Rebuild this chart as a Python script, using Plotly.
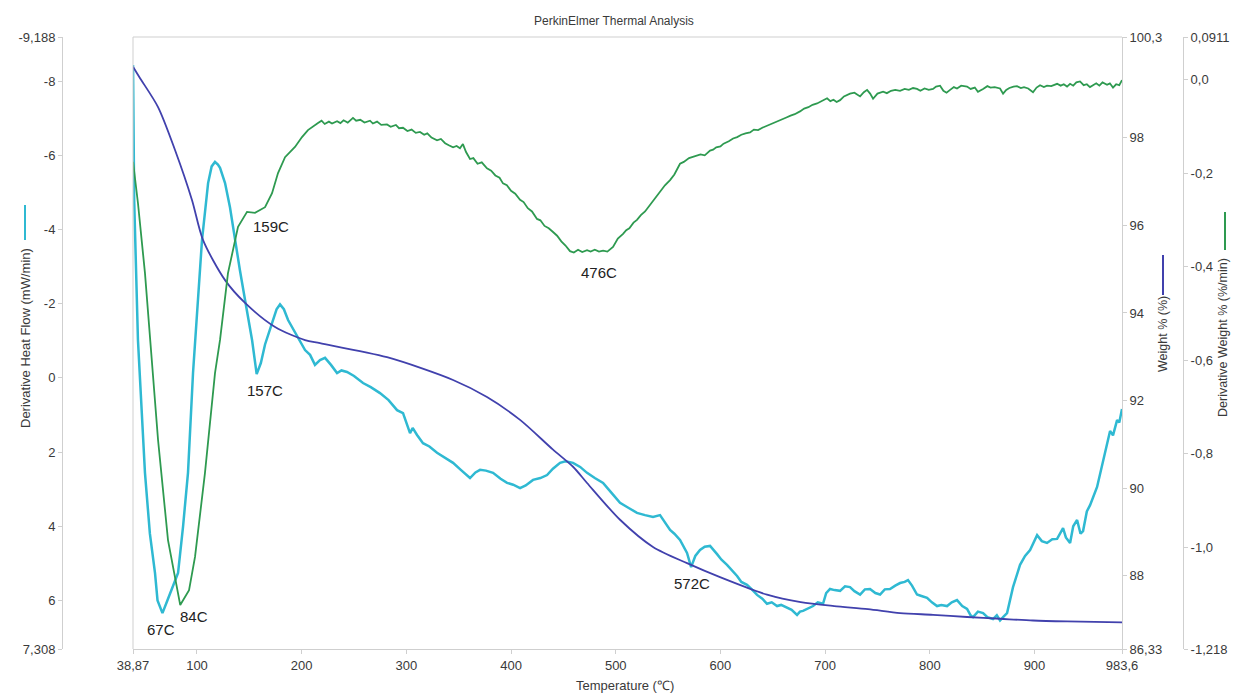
import plotly.graph_objects as go

# ---------------- data ----------------
# Derivative heat flow (mW/min), left axis (reversed)
hf_T = [38.9, 40.0, 43.6, 50.3, 55.0, 59.9, 62.3, 67.0, 71.7, 76.0, 81.9, 86.7, 91.4, 96.2, 100.0,
        104.8, 110.6, 114.0, 117.2, 120.0, 122.0, 126.8, 131.5, 136.3, 141.0, 145.9, 152.6, 157.0,
        161.0, 165.0, 171.7, 176.0, 179.3, 183.0, 187.0, 192.0, 196.5, 203.2, 208.0, 212.7, 217.5,
        222.3, 228.0, 233.8, 238.0, 243.3, 250.0, 258.6, 266.0, 274.8, 283.0, 291.1, 296.8, 303.5,
        306.0, 310.2, 315.9, 322.0, 329.3, 337.0, 344.6, 352.0, 360.8, 366.0, 370.4, 376.0, 382.8,
        390.0, 396.2, 402.0, 408.6, 414.0, 421.0, 428.0, 434.4, 440.0, 446.8, 452.0, 459.2, 466.0,
        472.6, 480.0, 487.9, 496.0, 504.1, 512.0, 520.3, 528.0, 535.6, 542.3, 547.0, 551.9, 556.0,
        561.4, 568.1, 572.0, 576.0, 580.5, 585.0, 590.1, 596.8, 601.0, 606.3, 615.9, 620.0, 625.4,
        630.0, 635.0, 640.0, 644.5, 649.0, 654.1, 658.0, 663.6, 668.0, 673.2, 676.0, 678.9, 684.0,
        688.5, 693.0, 698.0, 701.0, 704.7, 709.0, 714.3, 719.0, 723.8, 728.0, 733.4, 738.0, 742.9,
        748.0, 752.5, 757.0, 762.0, 767.0, 771.6, 776.0, 779.2, 783.0, 787.8, 792.0, 797.4, 802.0,
        806.9, 811.0, 816.5, 821.0, 826.0, 831.0, 835.6, 839.0, 841.3, 846.0, 850.9, 855.0, 860.4,
        864.0, 867.1, 870.0, 873.8, 879.5, 886.2, 891.0, 895.8, 902.5, 907.0, 912.0, 917.0, 921.6,
        927.3, 930.0, 934.0, 937.0, 940.7, 944.0, 946.4, 950.0, 953.1, 959.8, 965.5, 972.2, 975.0,
        978.9, 981.0, 983.6]
hf_val = [-8.43, -4.79, -1.02, 2.56, 4.20, 5.26, 6.00, 6.34, 6.00, 5.70, 5.26, 4.00, 2.56, -0.13, -1.80,
          -3.72, -5.25, -5.70, -5.82, -5.75, -5.66, -5.25, -4.60, -3.72, -2.90, -2.10, -1.02, -0.10,
          -0.40, -0.90, -1.50, -1.85, -1.98, -1.85, -1.56, -1.30, -1.10, -0.75, -0.62, -0.35, -0.48,
          -0.54, -0.35, -0.13, -0.20, -0.16, -0.05, 0.14, 0.25, 0.41, 0.60, 0.87, 0.95, 1.49,
          1.35, 1.54, 1.76, 1.85, 2.02, 2.15, 2.29, 2.48, 2.70, 2.55, 2.48, 2.50, 2.56,
          2.72, 2.83, 2.88, 2.97, 2.90, 2.75, 2.70, 2.62, 2.45, 2.29, 2.25, 2.29, 2.40,
          2.56, 2.70, 2.83, 3.10, 3.37, 3.50, 3.64, 3.70, 3.75, 3.70, 3.90, 4.10, 4.20,
          4.37, 4.72, 5.10, 4.80, 4.64, 4.55, 4.53, 4.75, 4.90, 5.04, 5.34, 5.50, 5.58,
          5.70, 5.85, 5.95, 6.09, 6.05, 6.15, 6.12, 6.19, 6.25, 6.39, 6.30, 6.28, 6.20,
          6.15, 6.05, 6.09, 5.80, 5.69, 5.72, 5.74, 5.62, 5.64, 5.75, 5.84, 5.70, 5.69,
          5.80, 5.84, 5.70, 5.69, 5.60, 5.53, 5.50, 5.45, 5.60, 5.84, 5.88, 5.93, 6.05,
          6.15, 6.12, 6.15, 6.05, 5.99, 6.15, 6.23, 6.40, 6.45, 6.30, 6.34, 6.45, 6.50,
          6.40, 6.54, 6.45, 6.34, 5.64, 5.04, 4.80, 4.64, 4.24, 4.40, 4.45, 4.35, 4.34,
          4.05, 4.30, 4.45, 4.00, 3.83, 4.20, 4.13, 3.60, 3.43, 2.94, 2.24, 1.43, 1.55,
          1.14, 1.20, 0.84]

# Weight % (%), first right axis
wt_T = [38.87, 45.6, 62.8, 79.0, 95.2, 105.7, 126.8, 145.9, 174.6, 203.2, 217.5, 281.5, 344.6,
        377.0, 408.6, 440.1, 459.2, 472.6, 504.1, 535.6, 568.1, 599.6, 644.5, 676.7, 708.6,
        741.0, 771.6, 803.1, 835.6, 867.1, 898.6, 931.1, 983.6]
wt_val = [99.62, 99.36, 98.70, 97.72, 96.58, 95.67, 94.75, 94.23, 93.68, 93.38, 93.31, 92.99, 92.47,
          92.08, 91.56, 90.88, 90.49, 90.12, 89.28, 88.66, 88.29, 87.97, 87.57, 87.40, 87.31,
          87.24, 87.15, 87.11, 87.06, 87.02, 86.98, 86.96, 86.94]

# Derivative weight % (%/min), second right axis
dw_T = [38.9, 43.6, 50.3, 55.1, 62.8, 72.3, 79.9, 84.0, 92.4, 98.1, 107.6, 117.2, 122.0, 129.6,
        139.2, 147.8, 155.4, 165.0, 171.7, 177.4, 184.1, 193.6, 200.3, 206.0,
        215.6, 219, 222, 226, 229, 233.8, 237, 240, 244, 249, 252, 256, 260, 265.3, 268, 272, 276,
        281.5, 285, 290, 293, 296.8, 301, 305, 309, 313, 317, 320, 324, 329.3, 333, 337, 341,
        344.6, 348, 351.2, 354, 357, 360.8, 364, 368, 372, 377, 381, 385, 389, 392.3, 396, 400,
        404, 408.6, 412, 416, 420, 424.8, 428, 432, 436, 440.1, 444, 448, 452, 456.3, 460, 464,
        468, 472.6, 476, 480, 484, 487.9, 492, 497.4, 502, 507, 510, 513, 517, 520.3, 524, 528,
        532, 535.6, 539, 543, 547, 551.9, 556, 561.4, 565, 570, 574, 577.6, 581, 585, 590.1, 593,
        596, 600, 603, 608, 612.1, 616, 620, 624, 628.3, 632, 636, 640, 644.5, 648, 652, 656,
        659.8, 663, 667, 671, 676, 680, 684, 688, 692.3, 697, 701.9, 705, 708, 711, 714.3, 718,
        723.8, 728, 733.4, 737, 740.1, 743, 745.8, 750, 755.4, 759, 763, 767, 771.6, 776, 780,
        784, 787.8, 791, 795, 799, 803.1, 806, 809.8, 813, 816, 819.4, 823, 826, 830, 835.6, 839,
        843, 846, 850.9, 855, 858, 862, 867.1, 870, 873, 876, 880, 883.3, 887, 890, 894, 898.6,
        902, 905.3, 909, 912, 916, 921.6, 925, 928, 931.1, 934, 937, 940, 943.5, 947, 950, 953,
        955.9, 959, 962, 965, 969.3, 972, 975, 978, 981, 983.6]
dw_val = [-0.176, -0.264, -0.414, -0.557, -0.771, -0.985, -1.081, -1.124, -1.092, -1.021, -0.842,
          -0.628, -0.557, -0.414, -0.315, -0.283, -0.285, -0.273, -0.243, -0.200, -0.166, -0.144,
          -0.123, -0.108,
          -0.093, -0.088, -0.095, -0.090, -0.094, -0.089, -0.093, -0.087, -0.092, -0.082, -0.088,
          -0.086, -0.092, -0.088, -0.094, -0.090, -0.097, -0.096, -0.101, -0.097, -0.104, -0.103,
          -0.110, -0.107, -0.114, -0.112, -0.118, -0.115, -0.124, -0.130, -0.127, -0.136, -0.141,
          -0.145, -0.142, -0.147, -0.138, -0.155, -0.170, -0.168, -0.180, -0.177, -0.190, -0.195,
          -0.205, -0.210, -0.222, -0.226, -0.238, -0.244, -0.257, -0.262, -0.275, -0.282, -0.298,
          -0.301, -0.313, -0.318, -0.326, -0.334, -0.346, -0.355, -0.367, -0.370, -0.364, -0.369,
          -0.365, -0.368, -0.364, -0.368, -0.366, -0.368, -0.358, -0.340, -0.330, -0.322, -0.318,
          -0.306, -0.300, -0.290, -0.282, -0.270, -0.258, -0.250, -0.238, -0.226, -0.215, -0.203,
          -0.180, -0.176, -0.168, -0.165, -0.162, -0.160, -0.162, -0.152, -0.150, -0.145, -0.143,
          -0.137, -0.132, -0.126, -0.123, -0.118, -0.115, -0.113, -0.107, -0.108, -0.103, -0.099,
          -0.096, -0.092, -0.088, -0.084, -0.081, -0.077, -0.074, -0.068, -0.062, -0.059, -0.054,
          -0.051, -0.045, -0.040, -0.046, -0.043, -0.048, -0.044, -0.036, -0.030, -0.028, -0.036,
          -0.027, -0.022, -0.030, -0.041, -0.030, -0.026, -0.029, -0.024, -0.022, -0.024, -0.020,
          -0.022, -0.018, -0.020, -0.024, -0.019, -0.022, -0.020, -0.015, -0.013, -0.024, -0.028,
          -0.022, -0.016, -0.019, -0.013, -0.015, -0.020, -0.017, -0.026, -0.020, -0.014, -0.017,
          -0.016, -0.019, -0.030, -0.022, -0.018, -0.015, -0.014, -0.018, -0.016, -0.019, -0.027,
          -0.017, -0.012, -0.016, -0.013, -0.014, -0.009, -0.013, -0.010, -0.015, -0.009, -0.013,
          -0.006, -0.004, -0.012, -0.010, -0.016, -0.012, -0.008, -0.013, -0.006, -0.011, -0.008,
          -0.017, -0.010, -0.012, -0.001]

# tick labels
x_ticks = [38.87, 100, 200, 300, 400, 500, 600, 700, 800, 900, 983.6]
x_labels = ["38,87", "100", "200", "300", "400", "500", "600", "700", "800", "900", "983,6"]
hf_ticks = [-9.188, -8, -6, -4, -2, 0, 2, 4, 6, 7.308]
hf_labels = ["-9,188", "-8", "-6", "-4", "-2", "0", "2", "4", "6", "7,308"]
wt_ticks = [86.33, 88, 90, 92, 94, 96, 98, 100.3]
wt_labels = ["86,33", "88", "90", "92", "94", "96", "98", "100,3"]
dw_ticks = [-1.218, -1.0, -0.8, -0.6, -0.4, -0.2, 0.0, 0.0911]
dw_labels = ["-1,218", "-1,0", "-0,8", "-0,6", "-0,4", "-0,2", "0,0", "0,0911"]

# peak labels: (text, temperature, heat-flow-axis value)
peak_text = ["67C", "84C", "159C", "157C", "476C", "572C"]
peak_T = [66, 97, 171, 165, 484, 573]
peak_y = [6.77, 6.42, -4.07, 0.35, -2.85, 5.55]

# ---------------- styling ----------------
# page body has an 8px margin; the figure is sized so it fills the 1239x698 window
OFF = 8
W, H = 1239 - OFF, 698 - OFF
CYAN = "#2fb9d2"
BLUE = "#4141ad"
GREEN = "#2e9a50"
TXT = "#3a3a3a"
AX = "#cfcfcf"
FONT = "Liberation Sans, Arial, sans-serif"


def px2paper(px):
    return (px - OFF) / W


def py2paper(py):
    return (649 - py) / 612


x0p, x1p = px2paper(133), px2paper(1122)

fig = go.Figure()
fig.add_trace(go.Scatter(x=hf_T, y=hf_val, mode="lines", line=dict(color=CYAN, width=2.5),
                         yaxis="y", name="Derivative Heat Flow"))
fig.add_trace(go.Scatter(x=wt_T, y=wt_val, mode="lines",
                         line=dict(color=BLUE, width=1.8, shape="spline", smoothing=0.8),
                         yaxis="y2", name="Weight %"))
fig.add_trace(go.Scatter(x=dw_T, y=dw_val, mode="lines", line=dict(color=GREEN, width=1.8),
                         yaxis="y3", name="Derivative Weight %"))

common_axis = dict(showgrid=False, zeroline=False, showline=True, linecolor=AX, linewidth=1,
                   ticks="outside", ticklen=4, tickcolor=AX, automargin=False,
                   tickfont=dict(family=FONT, size=13, color=TXT))

fig.update_layout(
    width=W, height=H, template="none",
    paper_bgcolor="white", plot_bgcolor="white",
    margin=dict(l=0, r=0, t=37 - OFF, b=H - (649 - OFF)),
    showlegend=False,
    font=dict(family=FONT, color=TXT),
    xaxis=dict(domain=[x0p, x1p], range=[38.87, 983.6], tickmode="array",
               tickvals=x_ticks, ticktext=x_labels, **common_axis),
    yaxis=dict(anchor="free", position=px2paper(62), side="left", range=[7.308, -9.188],
               tickmode="array", tickvals=hf_ticks, ticktext=hf_labels, **common_axis),
    yaxis2=dict(anchor="x", overlaying="y", side="right", range=[86.33, 100.3],
                tickmode="array", tickvals=wt_ticks, ticktext=wt_labels, **common_axis),
    yaxis3=dict(anchor="free", overlaying="y", side="right", position=px2paper(1183),
                range=[-1.218, 0.0911], tickmode="array", tickvals=dw_ticks, ticktext=dw_labels,
                **common_axis),
)

# frame lines of plot area (left and top)
fig.add_shape(type="line", xref="paper", yref="paper", x0=x0p, x1=x0p, y0=0, y1=1,
              line=dict(color=AX, width=1))
fig.add_shape(type="line", xref="paper", yref="paper", x0=x0p, x1=x1p, y0=1, y1=1,
              line=dict(color=AX, width=1))

# colored legend segments next to axis titles
fig.add_shape(type="line", xref="paper", yref="paper", x0=px2paper(25), x1=px2paper(25),
              y0=py2paper(240), y1=py2paper(205), line=dict(color=CYAN, width=2))
fig.add_shape(type="line", xref="paper", yref="paper", x0=px2paper(1163), x1=px2paper(1163),
              y0=py2paper(295), y1=py2paper(255), line=dict(color=BLUE, width=2))
fig.add_shape(type="line", xref="paper", yref="paper", x0=px2paper(1225), x1=px2paper(1225),
              y0=py2paper(250), y1=py2paper(212), line=dict(color=GREEN, width=2))

ann_font = dict(family=FONT, size=13, color=TXT)
center = dict(xanchor="center", yanchor="middle", showarrow=False, xref="paper", yref="paper")
fig.add_annotation(text="Derivative Heat Flow (mW/min)", x=px2paper(25), y=py2paper(338),
                   textangle=-90, font=ann_font, **center)
fig.add_annotation(text="Weight % (%)", x=px2paper(1163), y=py2paper(334),
                   textangle=-90, font=dict(family=FONT, size=12.5, color=TXT), **center)
fig.add_annotation(text="Derivative Weight % (%/min)", x=px2paper(1232), y=py2paper(338),
                   textangle=-90, font=dict(family=FONT, size=12.5, color=TXT),
                   xanchor="right", yanchor="middle", showarrow=False, xref="paper", yref="paper")
fig.add_annotation(text="Temperature (℃)", x=px2paper(625), y=py2paper(685),
                   font=ann_font, **center)
fig.add_annotation(text="PerkinElmer Thermal Analysis", x=px2paper(614), y=py2paper(21),
                   font=dict(family=FONT, size=12, color=TXT), **center)

for t, xv, yv in zip(peak_text, peak_T, peak_y):
    fig.add_annotation(text=t, x=xv, y=yv, xref="x", yref="y", showarrow=False,
                       xanchor="center", yanchor="middle",
                       font=dict(family=FONT, size=15, color="#222222"))

fig.write_html("out.html")
